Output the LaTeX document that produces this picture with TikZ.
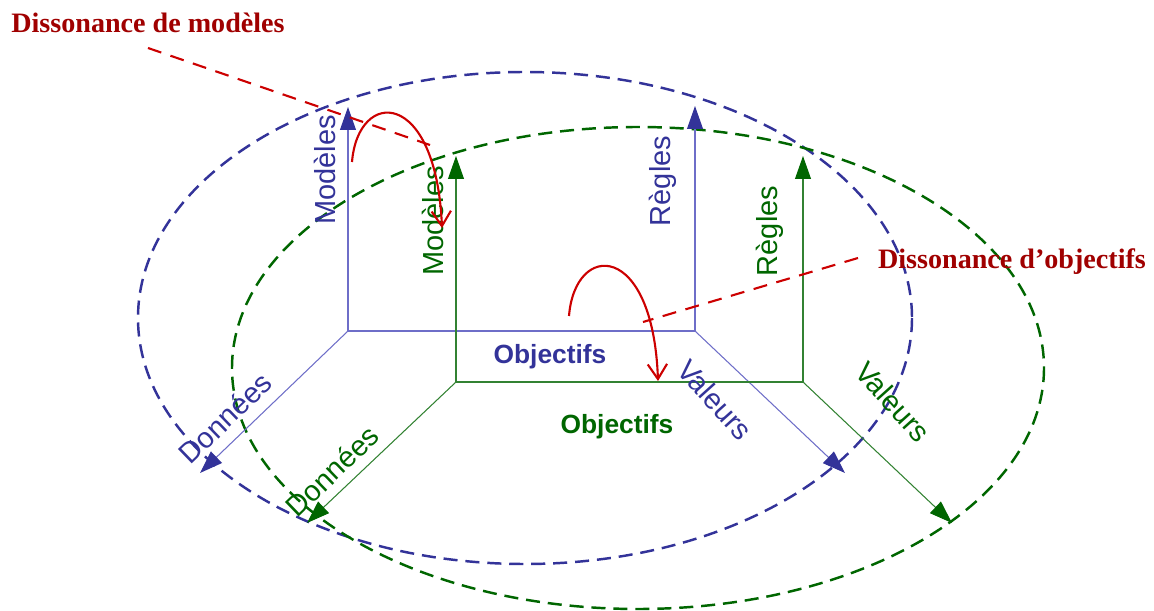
\documentclass[tikz,border=0pt]{standalone}
\usepackage{fontspec}
\setmainfont{Liberation Serif}
\setsansfont{Liberation Sans}
\usetikzlibrary{positioning,arrows.meta}
\definecolor{axblue}{RGB}{51,51,153}
\definecolor{lnblue}{RGB}{110,110,200}
\definecolor{axgreen}{RGB}{0,102,0}
\definecolor{lngreen}{RGB}{50,130,50}
\definecolor{dissred}{RGB}{204,0,0}
\definecolor{disstext}{RGB}{160,0,0}

\begin{document}
\begin{tikzpicture}[
x=0.02cm, y=-0.02cm,
bluaxis/.style={draw=lnblue, line width=0.6pt},
grnaxis/.style={draw=lngreen, line width=0.6pt},
bluarrow/.style={bluaxis, -{Triangle[length=13pt,width=9pt,color=axblue]}},
grnarrow/.style={grnaxis, -{Triangle[length=13pt,width=9pt,color=axgreen]}},
bluring/.style={draw=axblue, line width=1.4pt, dash pattern=on 8pt off 4.5pt},
grnring/.style={draw=axgreen, line width=1.4pt, dash pattern=on 8pt off 4.5pt},
axlabel/.style={font=\fontsize{16.5}{18}\selectfont\sffamily, inner sep=0pt},
objlabel/.style={font=\fontsize{15}{17}\selectfont\sffamily\bfseries, inner sep=0pt},
disslabel/.style={font=\fontsize{16}{18}\selectfont\rmfamily\bfseries, text=disstext, inner sep=0pt},
dissline/.style={draw=dissred, line width=1.2pt, dash pattern=on 8pt off 5.5pt},
dissarrow/.style={draw=dissred, line width=1.2pt, -{Straight Barb[length=8.5pt,width=11pt]}}
]
\useasboundingbox (0,0) rectangle (1154,611);
%Rings
\draw[bluring] (525,318) ellipse [x radius=387, y radius=246];
\draw[grnring] (638,368) ellipse [x radius=406, y radius=241];
%Blue frame
\coordinate (bo) at (348,331);
\coordinate (bm) at (348,107);
\coordinate (bd) at (200,473);
\coordinate (br) at (695,331);
\coordinate (bg) at (695,106);
\coordinate (bv) at (845,473);
%Green frame
\coordinate (go) at (456,382);
\coordinate (gm) at (456,156);
\coordinate (gd) at (307,523);
\coordinate (gr) at (803,382);
\coordinate (gg) at (803,156);
\coordinate (gv) at (952,523);
%Lines
\draw[bluarrow] (bo) -- (bm);
\draw[bluarrow] (bo) -- (bd);
\draw[bluaxis] (bo) -- (br);
\draw[bluarrow] (br) -- (bg);
\draw[bluarrow] (br) -- (bv);
\draw[grnarrow] (go) -- (gm);
\draw[grnarrow] (go) -- (gd);
\draw[grnaxis] (go) -- (gr);
\draw[grnarrow] (gr) -- (gg);
\draw[grnarrow] (gr) -- (gv);
%Nodes
\node[axlabel, text=axblue, rotate=90]  (bmodeles) at (325,170) {Modèles};
\node[axlabel, text=axblue, rotate=90]  (bregles)  at (663,181) {Règles};
\node[axlabel, text=axblue, rotate=44]  (bdonnees) at (225,418) {Données};
\node[axlabel, text=axblue, rotate=-48] (bvaleurs) at (715,400) {Valeurs};
\node[objlabel, text=axblue]            (bobj)     at (550,357) {Objectifs};
\node[axlabel, text=axgreen, rotate=90]  (gmodeles) at (433,221) {Modèles};
\node[axlabel, text=axgreen, rotate=90]  (gregles)  at (770,231) {Règles};
\node[axlabel, text=axgreen, rotate=44]  (gdonnees) at (332,471) {Données};
\node[axlabel, text=axgreen, rotate=-48] (gvaleurs) at (893,402) {Valeurs};
\node[objlabel, text=axgreen]            (gobj)     at (617,427) {Objectifs};
\node[disslabel] (dmod) at (148,23)   {Dissonance de modèles};
\node[disslabel] (dobj) at (1012,262) {Dissonance d’objectifs};
%Dissonance
\coordinate (m1) at (148,48);
\coordinate (m2) at (430,145);
\coordinate (o1) at (858,258);
\coordinate (o2) at (643,322);
\draw[dissline] (m1) -- (m2);
\draw[dissline] (o1) -- (o2);
\coordinate (ma) at (352,162);
\coordinate (mb) at (442,228);
\coordinate (oa) at (569,316);
\coordinate (ob) at (658,381);
\draw[dissarrow] (ma) .. controls (358,88) and (436,88) .. (mb);
\draw[dissarrow] (oa) .. controls (575,241) and (653,241) .. (ob);
\end{tikzpicture}
\end{document}
